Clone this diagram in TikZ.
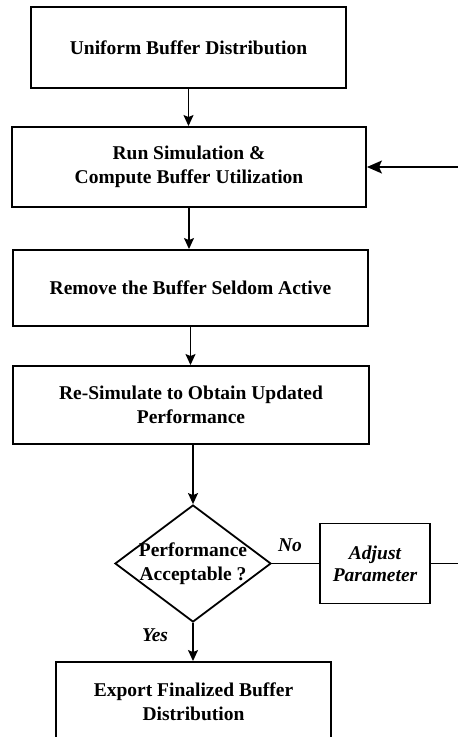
\documentclass[tikz,border=0pt]{standalone}
\usepackage{fontspec}
\setmainfont{Liberation Serif}
\usetikzlibrary{shapes.geometric,arrows.meta}
\begin{document}
\begin{tikzpicture}[x=1pt,y=-1pt,
  txt/.style={font=\bfseries\fontsize{19.5}{24}\selectfont,align=center,inner sep=0pt},
  box/.style={txt,draw,line width=1.9pt},
  itx/.style={font=\bfseries\itshape\fontsize{19.5}{22}\selectfont,align=center,inner sep=0pt},
  decision/.style={draw,diamond,line width=1.8pt,inner sep=0pt,minimum width=156pt,minimum height=117pt},
  conn/.style={line width=1.4pt},
  arr/.style={conn,-{Stealth[length=11pt,width=10pt,inset=2pt]}},
  bigarr/.style={conn,-{Stealth[length=15pt,width=13pt,inset=3pt]}}]
\useasboundingbox (0,0) rectangle (458,737);
\clip (0,0) rectangle (458,737);
\node[box,minimum width=315pt,minimum height=81pt] (b1) at (188.5,47.5) {Uniform Buffer Distribution};
\node[box,minimum width=354pt,minimum height=80pt] (b2) at (189,167) {Run Simulation \&\\Compute Buffer Utilization};
\node[box,minimum width=355pt,minimum height=76pt] (b3) at (190.5,288) {Remove the Buffer Seldom Active};
\node[box,minimum width=356pt,minimum height=78pt] (b4) at (191,405) {Re-Simulate to Obtain Updated\\Performance};
\node[decision] (dec) at (193,563.5) {};
\node[txt] (dectext) at (193,564) {Performance\\Acceptable ?};
\node[itx,draw,line width=1.9pt,minimum width=110pt,minimum height=80pt] (adj) at (375,563.5) {Adjust\\Parameter};
\node[box,minimum width=275pt,minimum height=80pt] (b5) at (193.5,702) {Export Finalized Buffer\\Distribution};
\node[itx] (no) at (290,545) {No};
\node[itx] (yes) at (155,635) {Yes};
\draw[arr] (b1.south) -- (b1.south |- b2.north);
\draw[arr] (b2.south) -- (b2.south |- b3.north);
\draw[arr] (b3.south) -- (b3.south |- b4.north);
\draw[arr] (b4.south -| dec.north) -- (dec.north);
\draw[conn] (dec.east) -- (adj.west);
\draw[arr] (dec.south) -- (dec.south |- b5.north);
\draw[bigarr] (adj.east) -- ++(45,0) |- (b2.east);
\end{tikzpicture}
\end{document}
